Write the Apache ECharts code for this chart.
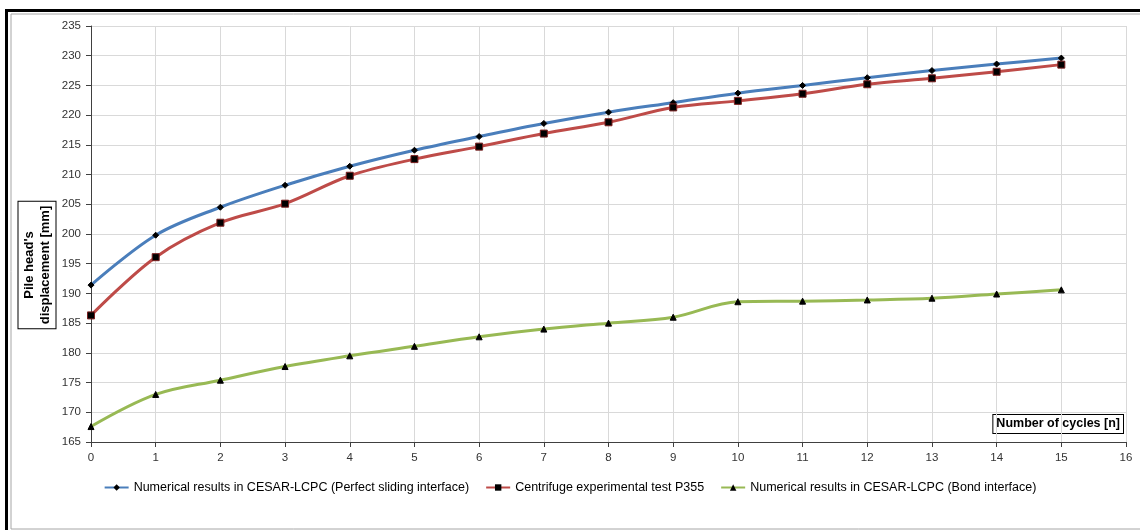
<!DOCTYPE html>
<html>
<head>
<meta charset="utf-8">
<script src="https://cdn.jsdelivr.net/npm/echarts@6/dist/echarts.min.js"></script>
<style>
html,body{margin:0;padding:0;background:#fff;}
#chart{width:1140px;height:530px;}
</style>
</head>
<body>
<div id="chart"></div>
<script>
const cycles = [0,1,2,3,4,5,6,7,8,9,10,11,12,13,14,15];
const perfectSliding = [191.4,199.8,204.5,208.2,211.4,214.1,216.4,218.6,220.5,222.1,223.7,225.0,226.3,227.5,228.6,229.6];
const centrifugeP355 = [186.3,196.1,201.9,205.1,209.8,212.6,214.7,216.9,218.8,221.3,222.4,223.6,225.2,226.2,227.3,228.5];
const bondInterface = [167.6,173.0,175.4,177.7,179.5,181.1,182.7,184.0,185.0,186.0,188.6,188.7,188.9,189.2,189.9,190.6];
const seriesNames = [
  'Numerical results in CESAR-LCPC (Perfect sliding interface)',
  'Centrifuge experimental test P355',
  'Numerical results in CESAR-LCPC (Bond interface)'
];
const yAxisTitle = "Pile head's\ndisplacement [mm]";
const xAxisTitle = 'Number of cycles [n]';

const FONT = '"Liberation Sans", "Open Sans", sans-serif';
const pairs = arr => cycles.map((c, i) => [c, arr[i]]);

const chart = echarts.init(document.getElementById('chart'));
chart.setOption({
  animation: false,
  backgroundColor: '#fff',
  grid: { left: 91, right: 14, top: 26, bottom: 88, containLabel: false },
  xAxis: {
    type: 'value', min: 0, max: 16, interval: 1,
    axisLine: { onZero: false, lineStyle: { color: '#404040', width: 1 } },
    axisTick: { show: true, length: 5, lineStyle: { color: '#404040' } },
    axisLabel: { color: '#333', fontFamily: FONT, fontSize: 11.5, margin: 10 },
    splitLine: { show: true, lineStyle: { color: '#d9d9d9', width: 1 } }
  },
  yAxis: {
    type: 'value', min: 165, max: 235, interval: 5,
    axisLine: { show: true, lineStyle: { color: '#404040', width: 1 } },
    axisTick: { show: true, length: 5, lineStyle: { color: '#404040' } },
    axisLabel: { color: '#333', fontFamily: FONT, fontSize: 11.5, margin: 10 },
    splitLine: { show: true, lineStyle: { color: '#d9d9d9', width: 1 } }
  },
  legend: {
    bottom: 31, left: 'center',
    itemWidth: 24, itemHeight: 8, itemGap: 16,
    textStyle: { color: '#000', fontFamily: FONT, fontSize: 12.5 },
    data: seriesNames
  },
  graphic: [
    { type: 'rect', silent: true, shape: { x: 11, y: 14, width: 1140, height: 515 },
      style: { fill: 'none', stroke: '#a6a6a6', lineWidth: 1 } },
    { type: 'rect', silent: true, shape: { x: 5, y: 9, width: 1140, height: 3 }, style: { fill: '#000' } },
    { type: 'rect', silent: true, shape: { x: 5, y: 9, width: 3, height: 530 }, style: { fill: '#000' } },
    { type: 'text', silent: true, x: 37, y: 265, rotation: Math.PI / 2,
      style: { text: yAxisTitle, align: 'center', verticalAlign: 'middle',
        font: 'bold 13px ' + FONT, fill: '#000', lineHeight: 16,
        borderColor: '#000', borderWidth: 1, padding: [3, 4, 2, 4], backgroundColor: '#fff' } },
    { type: 'text', silent: true, x: 1123, y: 424,
      style: { text: xAxisTitle, align: 'right', verticalAlign: 'middle',
        font: 'bold 12.5px ' + FONT, fill: '#000',
        borderColor: '#000', borderWidth: 1, padding: [3, 3, 2, 3], backgroundColor: '#fff' } }
  ],
  series: [
    { name: seriesNames[0], type: 'line', smooth: 0.35, data: pairs(perfectSliding),
      symbol: 'diamond', symbolSize: 6,
      lineStyle: { color: '#4a7ebb', width: 3 }, itemStyle: { color: '#000', borderColor: '#000' } },
    { name: seriesNames[1], type: 'line', smooth: 0.35, data: pairs(centrifugeP355),
      symbol: 'rect', symbolSize: 7,
      lineStyle: { color: '#be4b48', width: 3 }, itemStyle: { color: '#000', borderColor: '#7a1f1f' } },
    { name: seriesNames[2], type: 'line', smooth: 0.35, data: pairs(bondInterface),
      symbol: 'triangle', symbolSize: 6,
      lineStyle: { color: '#98b954', width: 3 }, itemStyle: { color: '#000', borderColor: '#000' } }
  ]
});
</script>
</body>
</html>
